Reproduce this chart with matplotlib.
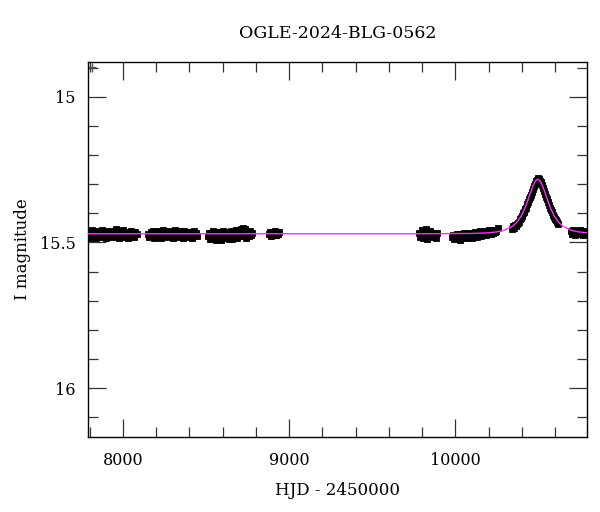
import numpy as np
import matplotlib
matplotlib.use('Agg')
import matplotlib.pyplot as plt
import matplotlib.ticker as mticker

plt.rcParams['font.family'] = ['DejaVu Serif']

# observing seasons (HJD - 2450000, I mag)
s1_t = [7788 + 7 * k for k in range(43)]
s1_m = [15.476, 15.462, 15.484, 15.470, 15.458, 15.479, 15.466, 15.486, 15.461, 15.474,
        15.468, 15.482, 15.457, 15.471, 15.478, 15.463, 15.485, 15.469, 15.459, 15.476,
        15.465, 15.481, 15.460, 15.473, 15.455, 15.479, 15.467, 15.484, 15.462, 15.471,
        15.457, 15.480, 15.468, 15.476, 15.463, 15.483, 15.470, 15.459, 15.475, 15.466,
        15.480, 15.464, 15.472]

s2_t = [8152 + 7 * k for k in range(43)]
s2_m = [15.470, 15.481, 15.463, 15.476, 15.459, 15.484, 15.468, 15.474, 15.461, 15.480,
        15.466, 15.483, 15.471, 15.458, 15.477, 15.465, 15.482, 15.469, 15.460, 15.478,
        15.464, 15.485, 15.472, 15.457, 15.476, 15.467, 15.481, 15.462, 15.474, 15.470,
        15.483, 15.459, 15.477, 15.466, 15.480, 15.463, 15.475, 15.469, 15.484, 15.461,
        15.473, 15.467, 15.478]

s3_t = [8512 + 7 * k for k in range(39)]
s3_m = [15.478, 15.466, 15.488, 15.471, 15.459, 15.485, 15.474, 15.490, 15.463, 15.481,
        15.469, 15.492, 15.476, 15.460, 15.486, 15.472, 15.483, 15.465, 15.489, 15.474,
        15.462, 15.487, 15.470, 15.481, 15.458, 15.484, 15.467, 15.476, 15.455, 15.479,
        15.449, 15.470, 15.452, 15.483, 15.465, 15.477, 15.460, 15.473, 15.468]

s4_t = [8878, 8885, 8892, 8899, 8906, 8913, 8920, 8927, 8934, 8941]
s4_m = [15.470, 15.463, 15.478, 15.467, 15.474, 15.461, 15.476, 15.469, 15.472, 15.465]

s5_t = [9782, 9789, 9796, 9803, 9810, 9817, 9824, 9831, 9838, 9845, 9852, 9859, 9866, 9873, 9880, 9887]
s5_m = [15.468, 15.480, 15.457, 15.486, 15.463, 15.476, 15.455, 15.488, 15.470, 15.460,
        15.482, 15.466, 15.478, 15.472, 15.484, 15.469]

s6_t = [9980 + 7 * k for k in range(40)]
s6_m = [15.482, 15.474, 15.488, 15.478, 15.470, 15.485, 15.476, 15.490, 15.472, 15.483,
        15.468, 15.480, 15.475, 15.486, 15.466, 15.479, 15.471, 15.484, 15.469, 15.477,
        15.463, 15.481, 15.470, 15.474, 15.462, 15.478, 15.467, 15.473, 15.460, 15.476,
        15.465, 15.470, 15.458, 15.472, 15.463, 15.467, 15.456, 15.465, 15.460, 15.450]

s7_t = [10338 + 6 * k for k in range(47)]
s7_m = [15.452, 15.445, 15.449, 15.440, 15.443, 15.436, 15.432, 15.428, 15.421, 15.415,
        15.409, 15.400, 15.396, 15.386, 15.380, 15.368, 15.361, 15.352, 15.343, 15.336,
        15.326, 15.318, 15.306, 15.300, 15.290, 15.284, 15.278, 15.282, 15.288, 15.293,
        15.302, 15.312, 15.322, 15.334, 15.343, 15.352, 15.360, 15.372, 15.380, 15.388,
        15.397, 15.404, 15.411, 15.418, 15.424, 15.430, 15.436]

s8_t = [10692 + 7 * k for k in range(15)]
s8_m = [15.462, 15.470, 15.457, 15.468, 15.474, 15.460, 15.466, 15.472, 15.458, 15.469,
        15.463, 15.475, 15.461, 15.467, 15.470]

# microlensing model curve
model_t = [7780, 9800, 10100, 10195, 10245, 10295, 10345, 10370, 10395, 10415, 10430,
           10450, 10465, 10475, 10485, 10495, 10505, 10515, 10525, 10540, 10560, 10575,
           10595, 10620, 10645, 10695, 10745, 10800]
model_m = [15.470, 15.470, 15.469, 15.467, 15.464, 15.458, 15.444, 15.430, 15.410, 15.386,
           15.364, 15.331, 15.307, 15.295, 15.286, 15.283, 15.286, 15.295, 15.307, 15.331,
           15.364, 15.386, 15.410, 15.430, 15.444, 15.458, 15.464, 15.467]

seasons = [(s1_t, s1_m), (s2_t, s2_m), (s3_t, s3_m), (s4_t, s4_m),
           (s5_t, s5_m), (s6_t, s6_m), (s7_t, s7_m), (s8_t, s8_m)]

fig = plt.figure(figsize=(6, 5.12), dpi=100)
ax = fig.add_axes([0.1467, 0.1465, 0.8313, 0.7325])

for t, m in seasons:
    ax.errorbar(t, m, yerr=0.006, fmt='s', color='black', ecolor='black',
                markersize=4.0, markeredgewidth=0.6, elinewidth=1.0, capsize=0, zorder=2)

ax.plot(model_t, model_m, '-', color='#ff30ff', linewidth=1.0, zorder=3)

# typical error cross
ax.errorbar([7816], [14.899], xerr=[25], yerr=[0.016], fmt='none',
            ecolor='#555555', elinewidth=1.0, capsize=0)

ax.set_xlim(7790, 10790)
ax.set_ylim(16.168, 14.88)

ax.xaxis.set_major_locator(mticker.MultipleLocator(1000))
ax.xaxis.set_minor_locator(mticker.MultipleLocator(200))
ax.yaxis.set_major_locator(mticker.MultipleLocator(0.5))
ax.yaxis.set_minor_locator(mticker.MultipleLocator(0.1))
ax.yaxis.set_major_formatter(mticker.FormatStrFormatter('%g'))

ax.tick_params(which='both', direction='in', top=True, right=True,
               color='#333333', width=0.9, labelsize=11.5)
ax.tick_params(axis='x', which='major', length=13, pad=11)
ax.tick_params(axis='y', which='major', length=13, pad=9)
ax.tick_params(which='minor', length=7)
for sp in ax.spines.values():
    sp.set_linewidth(1.0)

ax.set_title('OGLE-2024-BLG-0562', fontsize=12.5, pad=17)
ax.set_xlabel('HJD - 2450000', fontsize=12, labelpad=9)
ax.set_ylabel('I magnitude', fontsize=12, labelpad=6)

plt.savefig('out.png', dpi=100)
